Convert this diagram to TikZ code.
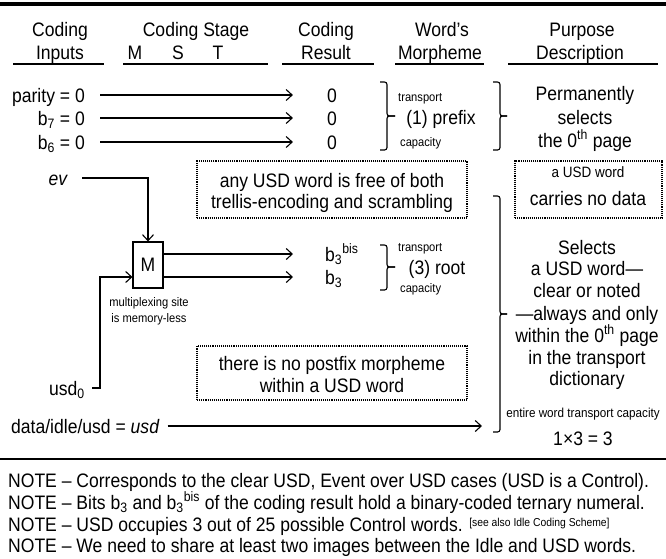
\documentclass[tikz,border=0pt]{standalone}
\usepackage{fontspec}
\setmainfont{Liberation Sans}[FakeStretch=0.9]
\usetikzlibrary{arrows.meta}
\newcommand\fsM{\fontsize{19.5}{22}\selectfont}
\newcommand\fsS{\fontsize{12.4}{14}\selectfont}
\newcommand\fsMid{\fontsize{15}{17}\selectfont}
\newcommand\fsE{\fontsize{13}{15}\selectfont}
\newcommand\fsN{\fontsize{11.5}{13}\selectfont}
\newcommand\mybrace[6]{\draw[brc] (#1,#4) -- (#2,#4) -- (#2,#5) -- (#3,#5);\draw[brc] (#3,#5) -- (#2,#5) -- (#2,#6) -- (#1,#6);}
\begin{document}
\begin{tikzpicture}[x=1pt,y=-1pt,
 txt/.style={inner sep=0pt, font=\fsM, text height=14pt, text depth=0pt},
 stxt/.style={inner sep=0pt, font=\fsS, text height=9pt, text depth=0pt},
 arr/.style={line width=1.1pt, -{Straight Barb[length=6pt,width=11pt]}},
 dbox/.style={draw, densely dotted, line width=1.1pt, inner sep=0pt},
 hrule/.style={line width=1.5pt},
 brc/.style={line width=1.1pt, rounded corners=2.5pt}]
\useasboundingbox (0,0) rectangle (666,558);
% header
\draw[line width=4pt] (0,4) -- (666,4);
\node[txt] (h1) at (60,29) {Coding};
\node[txt] (h2) at (60,52) {Inputs};
\node[txt] (h3) at (196,29) {Coding Stage};
\node[txt] (hM) at (135,52) {M};
\node[txt] (hS) at (178,52) {S};
\node[txt] (hT) at (218,52) {T};
\node[txt] (h4) at (326,29) {Coding};
\node[txt] (h5) at (326,52) {Result};
\node[txt] (h6) at (442,29) {Word's};
\node[txt] (h7) at (440,52) {Morpheme};
\node[txt] (h8) at (582,29) {Purpose};
\node[txt] (h9) at (580,52) {Description};
\draw[hrule] (13,64) -- (104,64);
\draw[hrule] (123,64) -- (268,64);
\draw[hrule] (282,64) -- (374,64);
\draw[hrule] (395,64) -- (484,64);
\draw[hrule] (508,64) -- (658,64);
% prefix rows
\node[txt, anchor=east] (par) at (85,95) {parity = 0};
\node[txt, anchor=east] (b7) at (85,118) {b\textsubscript{7} = 0};
\node[txt, anchor=east] (b6) at (85,142) {b\textsubscript{6} = 0};
\node[txt] (z1) at (332,95) {0};
\node[txt] (z2) at (332,118) {0};
\node[txt] (z3) at (332,142) {0};
\draw[arr] ([xshift=15pt]par.east) -- ([xshift=-34pt]z1.west);
\draw[arr] ([xshift=15pt]b7.east) -- ([xshift=-34pt]z2.west);
\draw[arr] ([xshift=15pt]b6.east) -- ([xshift=-34pt]z3.west);
\mybrace{380}{387}{395}{82}{116}{150}
\node[stxt, anchor=west] (t1) at (398,97) {transport};
\node[txt] (pre) at (441,117) {(1) prefix};
\node[stxt, anchor=west] (c1) at (400,142) {capacity};
\mybrace{493}{500}{507}{82}{116}{150}
\node[txt] (p1) at (585,93) {Permanently};
\node[txt] (p2) at (585,117) {selects};
\node[txt] (p3) at (585,140) {the 0\textsuperscript{th} page};
% dotted boxes
\node[dbox, minimum width=270pt, minimum height=57pt] (bx1) at (332,189.5) {};
\node[txt] (bx1a) at (332,180) {any USD word is free of both};
\node[txt] (bx1b) at (332,201) {trellis-encoding and scrambling};
\node[dbox, minimum width=147pt, minimum height=57pt] (bx2) at (588.5,189.5) {};
\node[inner sep=0pt, font=\fsMid, text height=11pt, text depth=0pt] (bx2a) at (588,172) {a USD word};
\node[txt] (bx2b) at (588,198) {carries no data};
% multiplexer
\node[txt, font=\fsM\itshape] (ev) at (58,178) {ev};
\node[draw, line width=1.1pt, minimum width=30pt, minimum height=46pt, inner sep=0pt, font=\fsM] (M) at (148,265) {M};
\draw[arr] ([xshift=15pt]ev.east) -| (M.north);
\node[txt, anchor=west] (r1) at (325,254) {b\textsubscript{3}\textsuperscript{bis}};
\node[txt, anchor=west] (r2) at (325,277) {b\textsubscript{3}};
\draw[arr] (M.east |- r1.west) -- ([xshift=-32pt]r1.west);
\draw[arr] (M.east |- r2.west) -- ([xshift=-32pt]r2.west);
\node[txt, anchor=east] (usd) at (85,388) {usd\textsubscript{0}};
\coordinate (jn) at (100,277);
\draw[arr] ([xshift=7pt]usd.east) -| (jn) -- (M.west |- jn);
\node[stxt] (ms1) at (149,302) {multiplexing site};
\node[stxt] (ms2) at (149,318) {is memory-less};
\mybrace{380}{387}{395}{245}{267}{290}
\node[stxt, anchor=west] (t3) at (398,247) {transport};
\node[txt] (root) at (437,267) {(3) root};
\node[stxt, anchor=west] (c3) at (400,288) {capacity};
\node[dbox, minimum width=270pt, minimum height=54pt] (bx3) at (332,373) {};
\node[txt] (bx3a) at (332,363) {there is no postfix morpheme};
\node[txt] (bx3b) at (332,385) {within a USD word};
% big brace
\mybrace{493}{500}{507}{196}{314}{432}
\node[txt] (s1) at (587,247) {Selects};
\node[txt] (s2) at (587,268) {a USD word—};
\node[txt] (s3) at (587,290) {clear or noted};
\node[txt] (s4) at (587,313) {—always and only};
\node[txt] (s5) at (587,335) {within the 0\textsuperscript{th} page};
\node[txt] (s6) at (587,357) {in the transport};
\node[txt] (s7) at (587,378) {dictionary};
\node[txt, anchor=west] (dat) at (11,426) {data/idle/usd = \textit{usd}};
\coordinate (datend) at (482,426);
\draw[arr] ([xshift=8pt]dat.east) -- (datend);
\node[inner sep=0pt, font=\fsE, text height=9.5pt, text depth=0pt] (ent) at (583,413) {entire word transport capacity};
\node[txt] (cap) at (583,438) {1×3 = 3};
% notes
\draw[line width=2pt] (0,459) -- (666,459);
\node[txt, anchor=west] (n1) at (8,480) {NOTE – Corresponds to the clear USD, Event over USD cases (USD is a Control).};
\node[txt, anchor=west] (n2) at (8,502) {NOTE – Bits b\textsubscript{3} and b\textsubscript{3}\textsuperscript{bis} of the coding result hold a binary-coded ternary numeral.};
\node[txt, anchor=west] (n3) at (8,524) {NOTE – USD occupies 3 out of 25 possible Control words. \raisebox{5pt}{\fsN [see also Idle Coding Scheme]}};
\node[txt, anchor=west] (n4) at (8,545) {NOTE – We need to share at least two images between the Idle and USD words.};
\end{tikzpicture}
\end{document}
